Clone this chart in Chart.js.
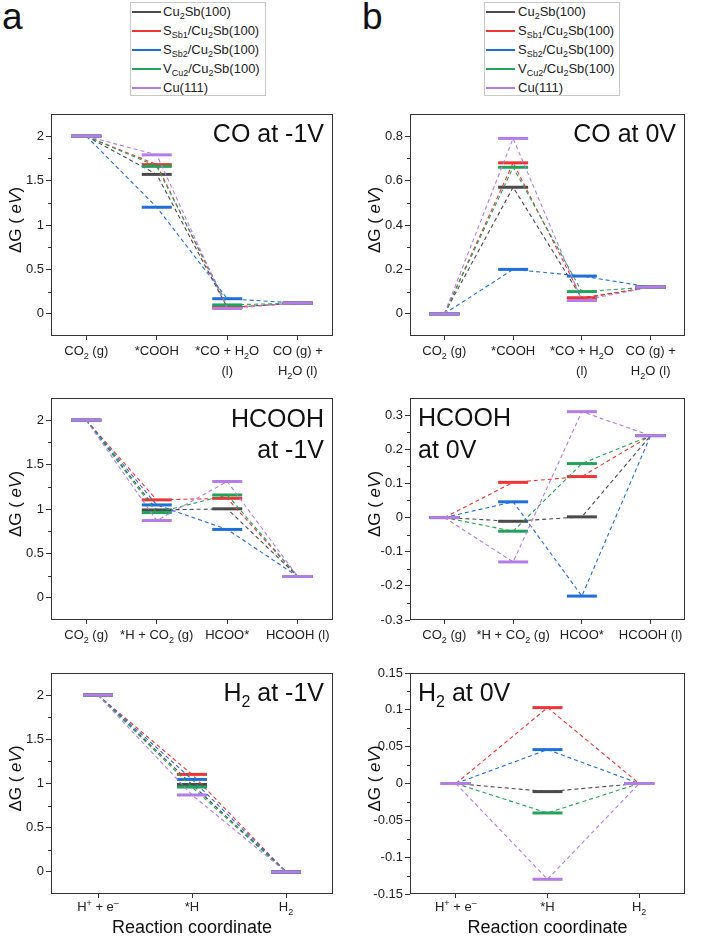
<!DOCTYPE html>
<html>
<head>
<meta charset="utf-8">
<script src="https://cdn.jsdelivr.net/npm/chart.js@4.4.1/dist/chart.umd.min.js"></script>
<style>
  html,body{margin:0;padding:0;background:#fff;}
  body{width:703px;height:937px;position:relative;overflow:hidden;font-family:"Liberation Sans",Arial,sans-serif;color:#222;}
  canvas{position:absolute;}
  .legend{position:absolute;top:2px;width:136px;height:94px;border:1px solid #c8c8c8;box-sizing:border-box;font-size:13px;color:#222;background:#fff;}
  .legend .row{position:absolute;left:0;height:19px;line-height:19px;white-space:nowrap;}
  .legend .sw{position:absolute;left:1px;top:9px;width:29px;height:2px;}
  .legend .tx{position:absolute;top:0;}
  .legend sub{font-size:9px;vertical-align:-3px;line-height:0;}
  .letter{position:absolute;top:-2px;font-size:37px;line-height:37px;color:#111;}
</style>
</head>
<body>
<div class="letter" style="left:2px">a</div>
<div class="letter" style="left:362px">b</div>
<div class="legend" id="legA" style="left:130px"></div>
<div class="legend" id="legB" style="left:484px"></div>

<canvas id="a1" width="351" height="284" style="left:0px;top:96px"></canvas>
<canvas id="b1" width="344" height="284" style="left:359px;top:96px"></canvas>
<canvas id="a2" width="351" height="275" style="left:0px;top:380px"></canvas>
<canvas id="b2" width="344" height="275" style="left:359px;top:380px"></canvas>
<canvas id="a3" width="351" height="282" style="left:0px;top:655px"></canvas>
<canvas id="b3" width="344" height="282" style="left:359px;top:655px"></canvas>

<script>
// ---------------- DATA ----------------
const seriesNames = ['Cu2Sb(100)', 'SSb1/Cu2Sb(100)', 'SSb2/Cu2Sb(100)', 'VCu2/Cu2Sb(100)', 'Cu(111)'];
const seriesNamesHtml = ['Cu<sub>2</sub>Sb(100)', 'S<sub>Sb1</sub>/Cu<sub>2</sub>Sb(100)', 'S<sub>Sb2</sub>/Cu<sub>2</sub>Sb(100)', 'V<sub>Cu2</sub>/Cu<sub>2</sub>Sb(100)', 'Cu(111)'];

const coCategories    = ['CO\u2082 (g)', '*COOH', ['*CO + H\u2082O', '(l)'], ['CO (g) +', 'H\u2082O (l)']];
const hcoohCategories = ['CO\u2082 (g)', '*H + CO\u2082 (g)', 'HCOO*', 'HCOOH (l)'];
const h2Categories    = ['H\u207A + e\u207B', '*H', 'H\u2082'];

// rows: Cu2Sb(100), SSb1, SSb2, VCu2, Cu(111)
const coAtMinus1V = [
  [2, 1.57, 0.07, 0.12],
  [2, 1.68, 0.072, 0.12],
  [2, 1.20, 0.17, 0.12],
  [2, 1.66, 0.10, 0.12],
  [2, 1.79, 0.06, 0.12]
];
const coAt0V = [
  [0, 0.57, 0.07, 0.12],
  [0, 0.68, 0.072, 0.12],
  [0, 0.20, 0.17, 0.12],
  [0, 0.66, 0.10, 0.12],
  [0, 0.79, 0.06, 0.12]
];
const hcoohAtMinus1V = [
  [2, 0.989, 1.002, 0.24],
  [2, 1.103, 1.12, 0.24],
  [2, 1.046, 0.77, 0.24],
  [2, 0.96, 1.158, 0.24],
  [2, 0.87, 1.31, 0.24]
];
const hcoohAt0V = [
  [0, -0.011, 0.002, 0.24],
  [0, 0.103, 0.12, 0.24],
  [0, 0.046, -0.23, 0.24],
  [0, -0.04, 0.158, 0.24],
  [0, -0.13, 0.31, 0.24]
];
const h2AtMinus1V = [
  [2, 0.989, 0],
  [2, 1.103, 0],
  [2, 1.046, 0],
  [2, 0.96, 0],
  [2, 0.87, 0]
];
const h2At0V = [
  [0, -0.011, 0],
  [0, 0.103, 0],
  [0, 0.046, 0],
  [0, -0.04, 0],
  [0, -0.13, 0]
];

const ticksMinus1V  = [0, 0.5, 1, 1.5, 2];
const minorMinus1V  = [0.25, 0.75, 1.25, 1.75];
const ticksCO0V     = [0, 0.2, 0.4, 0.6, 0.8];
const minorCO0V     = [0.1, 0.3, 0.5, 0.7];
const ticksHCOOH0V  = [-0.3, -0.2, -0.1, 0, 0.1, 0.2, 0.3];
const minorHCOOH0V  = [-0.25, -0.15, -0.05, 0.05, 0.15, 0.25];
const ticksH20V     = [-0.15, -0.1, -0.05, 0, 0.05, 0.1, 0.15];
const minorH20V     = [-0.125, -0.075, -0.025, 0.025, 0.075, 0.125];

// ---------------- STYLE ----------------
const seriesColors = ['#4a4a4a', '#f03434', '#1f6fd8', '#23a25a', '#b47ce6'];
const FONT = '"Liberation Sans", Arial, sans-serif';

// legends (HTML text with subscripts)
function buildLegend(id, textLeft) {
  const el = document.getElementById(id);
  const centers = [9, 28, 47, 66, 85];
  seriesNamesHtml.forEach((h, i) => {
    const r = document.createElement('div');
    r.className = 'row';
    r.style.top = (centers[i] - 9.5 - 1) + 'px';
    r.style.width = '130px';
    r.innerHTML = '<span class="sw" style="background:' + seriesColors[i] + '"></span><span class="tx" style="left:' + textLeft + 'px">' + h + '</span>';
    el.appendChild(r);
  });
}
buildLegend('legA', 32);
buildLegend('legB', 33);

// split a label into normal / subscript / superscript runs
function parseRuns(str) {
  const map = { '\u2082': ['2', 'sub'], '\u207A': ['+', 'sup'], '\u207B': ['\u2013', 'sup'] };
  const runs = [];
  for (const ch of str) {
    const m = map[ch];
    const t = m ? m[0] : ch, k = m ? m[1] : 'n';
    if (runs.length && runs[runs.length - 1].k === k) runs[runs.length - 1].t += t;
    else runs.push({ t: t, k: k });
  }
  return runs;
}
function runFont(k, size) { return (k === 'n' ? size : Math.round(size * 0.68)) + 'px ' + FONT; }
function runDy(k, size) { return k === 'sub' ? size * 0.28 : (k === 'sup' ? -size * 0.42 : 0); }

// ---------------- PLUGINS ----------------
const framePlugin = {
  id: 'frame',
  afterDraw(chart, args, opts) {
    const { ctx, chartArea: a } = chart;
    const ys = chart.scales.y, xs = chart.scales.x;
    ctx.save();
    ctx.strokeStyle = '#333';
    ctx.lineWidth = 1;
    ctx.strokeRect(a.left + 0.5, a.top + 0.5, a.right - a.left - 1, a.bottom - a.top - 1);
    // minor ticks
    ctx.beginPath();
    (opts.minor || []).forEach(v => {
      const py = Math.round(ys.getPixelForValue(v)) + 0.5;
      ctx.moveTo(a.left - 3, py);
      ctx.lineTo(a.left, py);
    });
    ctx.stroke();

    // x category labels with sub/superscripts
    ctx.fillStyle = '#222';
    ctx.textBaseline = 'alphabetic';
    chart.data.labels.forEach((lab, i) => {
      const lines = Array.isArray(lab) ? lab : [lab];
      const px = xs.getPixelForTick(i);
      lines.forEach((line, li) => {
        const runs = parseRuns(line);
        let w = 0;
        runs.forEach(r => { ctx.font = runFont(r.k, 13); w += ctx.measureText(r.t).width; });
        let x = px - w / 2;
        const base = a.bottom + opts.labelBase + li * 20;
        runs.forEach(r => {
          ctx.font = runFont(r.k, 13);
          ctx.fillText(r.t, x, base + runDy(r.k, 13));
          x += ctx.measureText(r.t).width;
        });
      });
    });

    // y title  "ΔG ( eV)"
    const segs = [['\u0394G ( ', ''], ['eV', 'italic '], [')', '']];
    ctx.fillStyle = '#111';
    ctx.textBaseline = 'middle';
    ctx.translate(a.left - 35, (a.top + a.bottom) / 2 - 5);
    ctx.rotate(-Math.PI / 2);
    let total = 0;
    segs.forEach(s => { ctx.font = s[1] + '17px ' + FONT; total += ctx.measureText(s[0]).width; });
    let x = -total / 2;
    segs.forEach(s => { ctx.font = s[1] + '17px ' + FONT; ctx.fillText(s[0], x, 0); x += ctx.measureText(s[0]).width; });
    ctx.restore();

    // in-plot title
    const t = opts.title;
    if (t) {
      ctx.save();
      ctx.fillStyle = '#111';
      ctx.textBaseline = 'alphabetic';
      t.lines.forEach((line, li) => {
        let w = 0;
        line.forEach(seg => { ctx.font = (seg.sub ? '16px ' : '25px ') + FONT; w += ctx.measureText(seg.t).width; });
        let x0 = t.align === 'right' ? a.right - 9 - w : a.left + 8;
        const base = a.top + t.baselines[li];
        line.forEach(seg => {
          ctx.font = (seg.sub ? '16px ' : '25px ') + FONT;
          ctx.fillText(seg.t, x0, base + (seg.sub ? 6 : 0));
          x0 += ctx.measureText(seg.t).width;
        });
      });
      ctx.restore();
    }
  }
};

// ---------------- CHART BUILDER ----------------
function makeChart(id, cats, rows, yMin, yMax, majors, minors, title, geom, xTitle) {
  const datasets = rows.map((vals, i) => ({
    label: seriesNames[i],
    data: vals,
    borderColor: seriesColors[i],
    borderWidth: 1.1,
    borderDash: [4, 3],
    pointStyle: 'line',
    pointRadius: 15,
    pointHoverRadius: 15,
    pointBorderWidth: 3,
    pointHoverBorderWidth: 3,
    pointBorderColor: seriesColors[i],
    pointBackgroundColor: seriesColors[i],
    tension: 0,
    fill: false,
    order: rows.length - 1 - i
  }));
  return new Chart(document.getElementById(id), {
    type: 'line',
    data: { labels: cats, datasets },
    plugins: [framePlugin],
    options: {
      responsive: false,
      animation: false,
      devicePixelRatio: 1,
      events: [],
      layout: { padding: { top: geom.top, right: geom.right, left: 0, bottom: 0 } },
      scales: {
        x: {
          type: 'category',
          offset: true,
          grid: { display: true, drawOnChartArea: false, drawTicks: true, tickLength: 4, offset: false, color: '#333', tickColor: '#333' },
          border: { display: false },
          ticks: { display: false },
          title: xTitle ? { display: true, text: xTitle, color: '#111', font: { family: FONT, size: 18, lineHeight: 1.0 }, padding: { top: 0, bottom: 0 } } : { display: false },
          afterFit: s => { s.height = geom.xh; }
        },
        y: {
          type: 'linear',
          min: yMin,
          max: yMax,
          afterBuildTicks: s => { s.ticks = majors.map(v => ({ value: v })); },
          grid: { display: true, drawOnChartArea: false, drawTicks: true, tickLength: 5, color: '#333', tickColor: '#333' },
          border: { display: false },
          ticks: { color: '#222', padding: 2, font: { family: FONT, size: 13 }, callback: v => String(Math.round(v * 1000) / 1000) },
          afterFit: s => { s.width = 51; }
        }
      },
      plugins: {
        legend: { display: false },
        tooltip: { enabled: false },
        frame: { minor: minors, title: title, labelBase: geom.lb }
      }
    }
  });
}

const L = t => ({ t: t });
const S = t => ({ t: t, sub: true });

makeChart('a1', coCategories, coAtMinus1V, -0.25, 2.25, ticksMinus1V, minorMinus1V,
  { align: 'right', lines: [[L('CO at -1V')]], baselines: [28] }, { top: 8, right: 10, xh: 44, lb: 19 });
makeChart('b1', coCategories, coAt0V, -0.1, 0.9, ticksCO0V, minorCO0V,
  { align: 'right', lines: [[L('CO at 0V')]], baselines: [28] }, { top: 8, right: 2, xh: 44, lb: 19 });
makeChart('a2', hcoohCategories, hcoohAtMinus1V, -0.25, 2.25, ticksMinus1V, minorMinus1V,
  { align: 'right', lines: [[L('HCOOH')], [L('at -1V')]], baselines: [29, 60] }, { top: 7, right: 10, xh: 35, lb: 19 });
makeChart('b2', hcoohCategories, hcoohAt0V, -0.3, 0.35, ticksHCOOH0V, minorHCOOH0V,
  { align: 'left', lines: [[L('HCOOH')], [L('at 0V')]], baselines: [28, 60] }, { top: 7, right: 2, xh: 35, lb: 19 });
makeChart('a3', h2Categories, h2AtMinus1V, -0.25, 2.25, ticksMinus1V, minorMinus1V,
  { align: 'right', lines: [[L('H'), S('2'), L(' at -1V')]], baselines: [28] }, { top: 7, right: 10, xh: 43, lb: 17 }, 'Reaction coordinate');
makeChart('b3', h2Categories, h2At0V, -0.15, 0.15, ticksH20V, minorH20V,
  { align: 'left', lines: [[L('H'), S('2'), L(' at 0V')]], baselines: [28] }, { top: 7, right: 2, xh: 43, lb: 17 }, 'Reaction coordinate');
</script>
</body>
</html>
